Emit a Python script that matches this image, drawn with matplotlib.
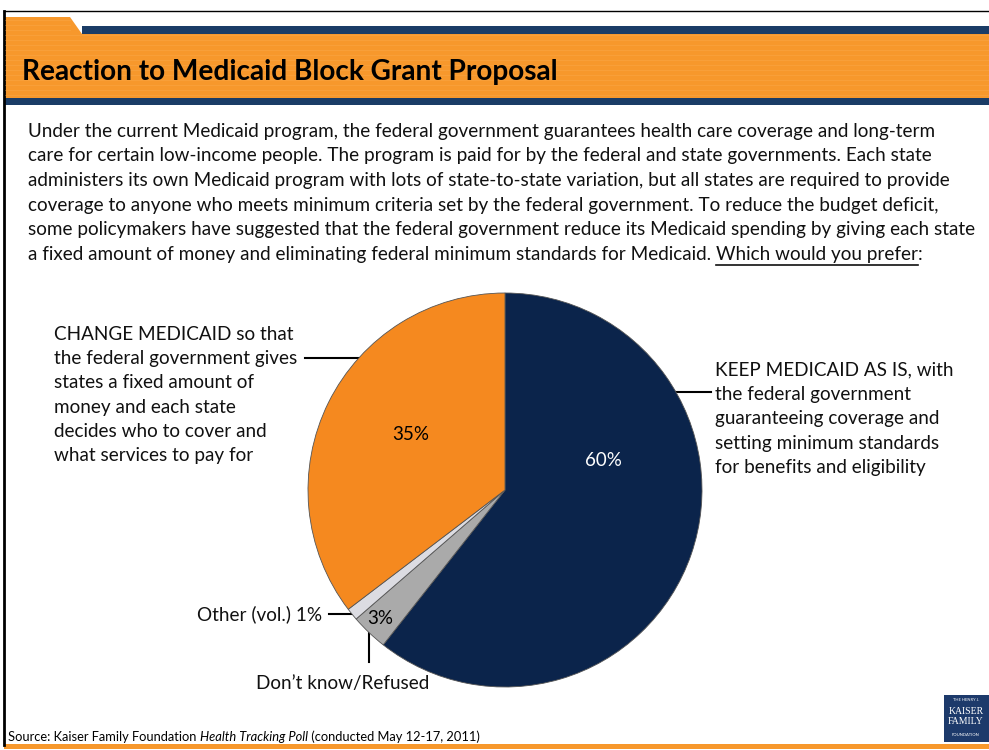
import matplotlib.pyplot as plt
from matplotlib.patches import Rectangle, Polygon
import numpy as np

plt.rcParams['font.family'] = ['Lato', 'DejaVu Sans']

# data
categories = ['Keep Medicaid as is', "Don't know/Refused", 'Other (vol.)', 'Change Medicaid']
values = [60, 3, 1, 35]
pct_labels = ['60%', '3%', '', '35%']
colors = ['#0b244b', '#aaaaaa', '#dcdce2', '#f5891f']

title = 'Reaction to Medicaid Block Grant Proposal'
body = ["Under the current Medicaid program, the federal government guarantees health care coverage and long-term",
        "care for certain low-income people. The program is paid for by the federal and state governments. Each state",
        "administers its own Medicaid program with lots of state-to-state variation, but all states are required to provide",
        "coverage to anyone who meets minimum criteria set by the federal government. To reduce the budget deficit,",
        "some policymakers have suggested that the federal government reduce its Medicaid spending by giving each state",
        "a fixed amount of money and eliminating federal minimum standards for Medicaid. "]
question = 'Which would you prefer'

left_label = ["CHANGE MEDICAID so that", "the federal government gives", "states a fixed amount of",
              "money and each state", "decides who to cover and", "what services to pay for"]
right_label = ["KEEP MEDICAID AS IS, with", "the federal government", "guaranteeing coverage and",
               "setting minimum standards", "for benefits and eligibility"]

W, H = 989, 750
navy = '#1a3c66'
orange = '#f7982c'

fig = plt.figure(figsize=(W / 100, H / 100), dpi=100)
bg = fig.add_axes([0, 0, 1, 1])
bg.set_xlim(0, W)
bg.set_ylim(H, 0)
bg.axis('off')

# frame
bg.plot([4, 4], [11, 745], color='black', lw=2)
bg.plot([4, W], [11, 11], color='black', lw=1)
bg.add_patch(Rectangle((4, 744), W - 4, 5, color=orange, lw=0))

# header band
bg.add_patch(Polygon([(5, 17), (70, 17), (82, 34), (W, 34), (W, 98), (5, 98)], closed=True, color=orange, lw=0))
bg.add_patch(Rectangle((82, 26), W - 82, 8, color=navy, lw=0))
bg.add_patch(Rectangle((5, 98), W - 5, 7, color=navy, lw=0))
for yy in range(20, 98, 5):
    x1 = W if yy >= 34 else 70
    bg.plot([5, x1], [yy, yy], color='#fbb25a', lw=0.6, alpha=0.35)
bg.text(22, 72, title, fontsize=20.2, fontweight='bold', va='center', ha='left', color='black')

# body text
fs = 13.6
for i, line in enumerate(body):
    bg.text(28, 131 + i * 24.7, line, fontsize=fs, va='center', ha='left', color='#111111')
fig.canvas.draw()
r = fig.canvas.get_renderer()
bb = bg.texts[-1].get_window_extent(r)
ly = 131 + 5 * 24.7
tq = bg.text(bb.x1, ly, question, fontsize=fs, va='center', ha='left', color='#111111')
bbq = tq.get_window_extent(r)
bg.text(bbq.x1, ly, ':', fontsize=fs, va='center', ha='left', color='#111111')
bg.plot([bbq.x0, bbq.x1], [ly + 10, ly + 10], color='#111111', lw=1.2)

# pie
cx, cy, rad = 505, 490, 197
pax = fig.add_axes([(cx - rad) / W, (H - cy - rad) / H, 2 * rad / W, 2 * rad / H])
wedges, _ = pax.pie(values, colors=colors, startangle=90, counterclock=False,
                    wedgeprops=dict(edgecolor='#555555', linewidth=0.6))
pax.set_aspect('equal')
pax.set_xlim(-1, 1)
pax.set_ylim(-1, 1)


def edge(angle):
    a = np.deg2rad(angle)
    return cx + rad * np.cos(a), cy - rad * np.sin(a)


def mid(w):
    return (w.theta1 + w.theta2) / 2

# percent labels
pos = {0: (0.5, 0.15), 1: (-0.635, -0.65), 3: (-0.48, 0.28)}
for i, (px, py) in pos.items():
    c = 'white' if i == 0 else 'black'
    pax.text(px, py, pct_labels[i], fontsize=13.5, ha='center', va='center', color=c)

lfs = 13.6
# left label
for i, line in enumerate(left_label):
    bg.text(54, 334 + i * 24.4, line, fontsize=lfs, va='center', ha='left', color='#111111')
ex, ey = edge(138)
bg.plot([305, ex], [ey, ey], color='black', lw=1.5)

# right label
for i, line in enumerate(right_label):
    bg.text(715, 370 + i * 24.4, line, fontsize=lfs, va='center', ha='left', color='#111111')
ex, ey = edge(30)
bg.plot([ex, 711], [ey, ey], color='black', lw=1.5)

# other
ex, ey = edge(mid(wedges[2]))
bg.text(322, ey, 'Other (vol.) 1%', fontsize=lfs, va='center', ha='right', color='#111111')
bg.plot([329, ex], [ey, ey], color='black', lw=1.5)

# don't know
ex, ey = edge(mid(wedges[1]))
bg.plot([ex, ex], [ey, 662], color='black', lw=1.5)
bg.text(343, 683, 'Don\u2019t know/Refused', fontsize=lfs, va='center', ha='center', color='#111111')

# source
sy = 737
sfs = 9.3
t1 = bg.text(8, sy, 'Source: Kaiser Family Foundation ', fontsize=sfs, va='center', ha='left')
fig.canvas.draw()
b1 = t1.get_window_extent(r)
t2 = bg.text(b1.x1, sy, 'Health Tracking Poll', fontsize=sfs, va='center', ha='left', style='italic')
b2 = t2.get_window_extent(r)
bg.text(b2.x1, sy, ' (conducted May 12-17, 2011)', fontsize=sfs, va='center', ha='left')

# logo
bg.add_patch(Rectangle((944, 695), 45, 47, color='#1d3a6b', lw=0))
bg.text(966, 700, 'THE HENRY J.', fontsize=3, color='white', ha='center', va='center')
bg.text(966, 711, 'KAISER', fontsize=7, color='white', ha='center', va='center', family='Liberation Serif')
bg.text(966, 722, 'FAMILY', fontsize=7, color='white', ha='center', va='center', family='Liberation Serif')
bg.text(966, 735, 'FOUNDATION', fontsize=3, color='white', ha='center', va='center')

fig.savefig('out.png', dpi=100)
